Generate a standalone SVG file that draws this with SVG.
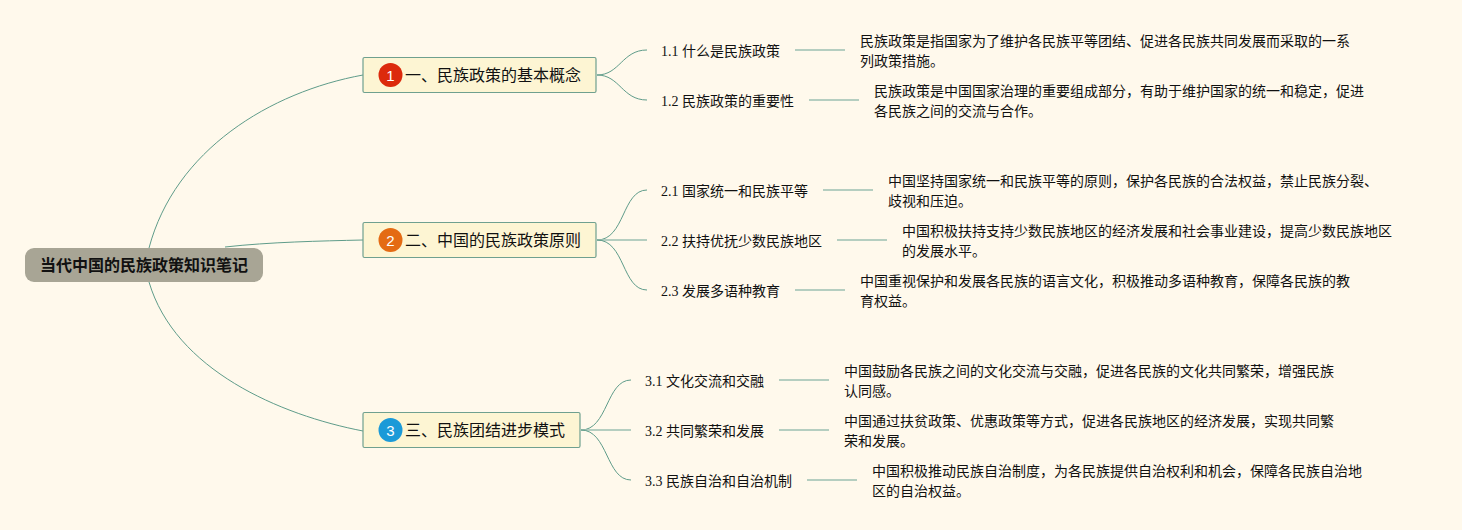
<svg xmlns="http://www.w3.org/2000/svg" width="1462" height="530" viewBox="0 0 1462 530">
<style>
text{font-family:"Liberation Serif","Noto Sans CJK SC",serif;fill:#111}
.root{fill:#a8a595}
.rt{font-size:16px;font-weight:700;font-family:"Noto Sans CJK SC",sans-serif}
.box{fill:#fdf5d3;stroke:#6fa08f;stroke-width:1.200}
.mt{font-size:16px;font-family:"Noto Sans CJK SC",sans-serif}
.badge{font-size:15px;fill:#fff;text-anchor:middle;font-family:"Liberation Sans",sans-serif}
.st{font-size:14px}
.dt{font-size:14px}
.c{fill:none;stroke:#5f9c8a;stroke-width:1}
.l{fill:none;stroke:#9dbfb2;stroke-width:1.400}
</style>
<rect width="1462" height="530" fill="#fff9ec"/>
<g id="connectors">
<path class="c" d="M149 248C175 150 270 92 363 75"/>
<path class="c" d="M225 247C270 242 320 241 363 240"/>
<path class="c" d="M149 282C175 370 280 415 363 431"/>
<path class="c" d="M597 75C620 75 622 50 647 50"/>
<path class="c" d="M597 75C620 75 622 100 647 100"/>
<path class="c" d="M597 240C625 240 622 190 647 190"/>
<path class="l" d="M597 240H647"/>
<path class="c" d="M597 240C625 240 622 290 647 290"/>
<path class="c" d="M581 430C608 430 606 380 631 380"/>
<path class="l" d="M581 430H631"/>
<path class="c" d="M581 430C608 430 606 480 631 480"/>
<path class="l" d="M795 50H845"/>
<path class="l" d="M809 100H859"/>
<path class="l" d="M823 190H873"/>
<path class="l" d="M837 240H887"/>
<path class="l" d="M795 290H845"/>
<path class="l" d="M779 380H829"/>
<path class="l" d="M779 430H829"/>
<path class="l" d="M807 480H857"/>
</g>
<g id="root"><rect class="root" x="25" y="248" width="238" height="34" rx="9"/><text class="rt" x="40" y="271">当代中国的民族政策知识笔记</text></g>
<g id="m1"><rect class="box" x="363" y="57.500" width="233" height="35" rx="1.500"/><circle cx="390.500" cy="75" r="12" fill="#dc2a0c"/><text class="badge" x="390.500" y="80.500">1</text><text class="mt" x="405" y="81">一、民族政策的基本概念</text></g>
<g id="m2"><rect class="box" x="363" y="222.500" width="233" height="35" rx="1.500"/><circle cx="390.500" cy="240" r="12" fill="#e46b14"/><text class="badge" x="390.500" y="245.500">2</text><text class="mt" x="405" y="246">二、中国的民族政策原则</text></g>
<g id="m3"><rect class="box" x="363" y="412.500" width="217" height="35" rx="1.500"/><circle cx="390.500" cy="430" r="12" fill="#1b9ad8"/><text class="badge" x="390.500" y="435.500">3</text><text class="mt" x="405" y="436">三、民族团结进步模式</text></g>
<g id="s11"><text class="st" x="661" y="56">1.1 什么是民族政策</text></g>
<g id="s12"><text class="st" x="661" y="106">1.2 民族政策的重要性</text></g>
<g id="s21"><text class="st" x="661" y="196">2.1 国家统一和民族平等</text></g>
<g id="s22"><text class="st" x="661" y="246">2.2 扶持优抚少数民族地区</text></g>
<g id="s23"><text class="st" x="661" y="296">2.3 发展多语种教育</text></g>
<g id="s31"><text class="st" x="645" y="386">3.1 文化交流和交融</text></g>
<g id="s32"><text class="st" x="645" y="436">3.2 共同繁荣和发展</text></g>
<g id="s33"><text class="st" x="645" y="486">3.3 民族自治和自治机制</text></g>
<g id="d11"><text class="dt" x="860" y="46">民族政策是指国家为了维护各民族平等团结、促进各民族共同发展而采取的一系</text><text class="dt" x="860" y="66">列政策措施。</text></g>
<g id="d12"><text class="dt" x="874" y="96">民族政策是中国国家治理的重要组成部分，有助于维护国家的统一和稳定，促进</text><text class="dt" x="874" y="116">各民族之间的交流与合作。</text></g>
<g id="d21"><text class="dt" x="888" y="186">中国坚持国家统一和民族平等的原则，保护各民族的合法权益，禁止民族分裂、</text><text class="dt" x="888" y="206">歧视和压迫。</text></g>
<g id="d22"><text class="dt" x="902" y="236">中国积极扶持支持少数民族地区的经济发展和社会事业建设，提高少数民族地区</text><text class="dt" x="902" y="256">的发展水平。</text></g>
<g id="d23"><text class="dt" x="860" y="286">中国重视保护和发展各民族的语言文化，积极推动多语种教育，保障各民族的教</text><text class="dt" x="860" y="306">育权益。</text></g>
<g id="d31"><text class="dt" x="844" y="376">中国鼓励各民族之间的文化交流与交融，促进各民族的文化共同繁荣，增强民族</text><text class="dt" x="844" y="396">认同感。</text></g>
<g id="d32"><text class="dt" x="844" y="426">中国通过扶贫政策、优惠政策等方式，促进各民族地区的经济发展，实现共同繁</text><text class="dt" x="844" y="446">荣和发展。</text></g>
<g id="d33"><text class="dt" x="872" y="476">中国积极推动民族自治制度，为各民族提供自治权利和机会，保障各民族自治地</text><text class="dt" x="872" y="496">区的自治权益。</text></g>
</svg>
